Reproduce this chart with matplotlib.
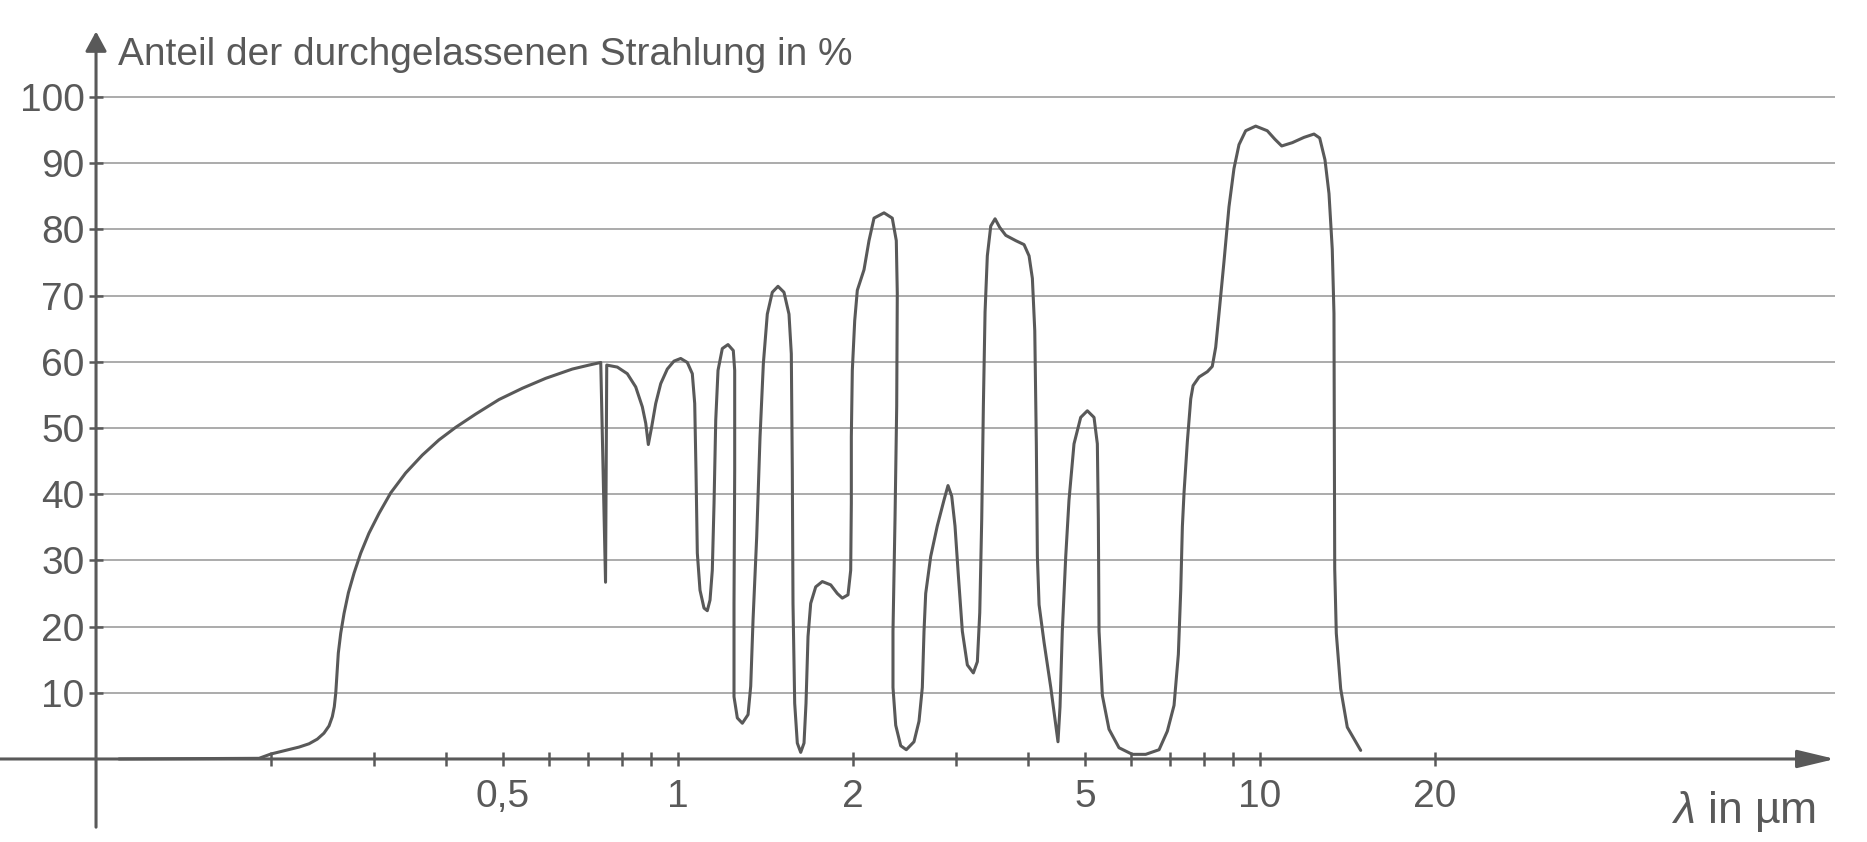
import numpy as np
import matplotlib
matplotlib.use('Agg')
import matplotlib.pyplot as plt
from matplotlib.ticker import FixedLocator, FixedFormatter, NullLocator

# Durchlässigkeit der Atmosphäre: Wellenlänge in µm, Anteil in %
wellenlaenge = [
    # UV / sichtbar
    0.1095, 0.1906, 0.1997, 0.2118, 0.2233, 0.2323, 0.2400, 0.2464, 0.2514, 0.2547,
    0.2567, 0.2582, 0.2595, 0.2608, 0.2633, 0.2668, 0.2714, 0.2776, 0.2850, 0.2944,
    0.3064, 0.3209, 0.3404, 0.3636, 0.3884, 0.4150, 0.4491, 0.4926, 0.5402, 0.5924,
    0.6582, 0.7031, 0.7366,
    # nahes IR
    0.7507, 0.7543, 0.7865, 0.8182, 0.8459, 0.8683, 0.8802, 0.8892, 0.9012, 0.9156,
    0.9339, 0.9585, 0.9842, 1.0107, 1.0375, 1.0582, 1.0683, 1.0737, 1.0794, 1.0909,
    1.1083, 1.1228, 1.1350, 1.1453, 1.1532, 1.1610, 1.1715, 1.1916, 1.2187, 1.2445,
    1.2514, 1.2514, 1.2480, 1.2480, 1.2645, 1.2898, 1.3193, 1.3333, 1.3456, 1.3653,
    1.3833, 1.4016, 1.4237, 1.4521, 1.4852, 1.5208, 1.5513, 1.5656, 1.5718, 1.5761,
    1.5867, 1.6032, 1.6249, 1.6463, 1.6593, 1.6726, 1.6904, 1.7243, 1.7698, 1.8298,
    1.8780, 1.9156, 1.9593, 1.9802, 1.9852, 1.9852, 1.9930, 2.0119, 2.0328, 2.0873,
    # mittleres IR
    2.1290, 2.1716, 2.2594, 2.3343, 2.3718, 2.3811, 2.3756, 2.3598, 2.3409, 2.3409,
    2.3663, 2.4136, 2.4675, 2.5437, 2.5947, 2.6290, 2.6467, 2.6644, 2.7177, 2.7893,
    2.8642, 2.9101, 2.9533, 2.9919, 3.0314, 3.0800, 3.1417, 3.2171, 3.2687, 3.2997,
    3.3257, 3.3472, 3.3696, 3.4000, 3.4464, 3.5057, 3.5710, 3.6575, 3.8045, 3.9318,
    4.0105, 4.0634, 4.1020, 4.1276, 4.1447, 4.1725, 4.2560, 4.3703, 4.4566, 4.4968,
    4.5332, 4.5742, 4.6368, 4.6970, 4.7910, 4.9196, 5.0504, 5.1859, 5.2545, 5.2751,
    5.2897, 5.3597, 5.5023, 5.7244, 6.0340, 6.3621, 6.7081,
    # atmosphärisches Fenster
    6.9310, 7.1173, 7.2397, 7.3085, 7.3557, 7.4050, 7.5027, 7.6036, 7.6740, 7.8580,
    8.1193, 8.2794, 8.3925, 8.5034, 8.6715, 8.8450, 9.0222, 9.2029, 9.4494, 9.8311,
    10.292, 10.612, 10.897, 11.364, 11.902, 12.382, 12.664, 12.932, 13.139, 13.310,
    13.400, 13.418, 13.440, 13.524, 13.761, 14.125, 14.894,
]
anteil = [
    0, 0.1, 0.75, 1.3, 1.8, 2.3, 3.0, 3.9, 5.0, 6.4,
    7.9, 10.0, 13.0, 16.0, 19.0, 22.0, 25.1, 28.1, 31.1, 34.1,
    37.1, 40.2, 43.2, 45.9, 48.2, 50.1, 52.1, 54.3, 56.0, 57.5,
    58.9, 59.5, 59.9,
    26.7, 59.5, 59.2, 58.2, 56.2, 53.2, 50.7, 47.5, 50.2, 53.7,
    56.7, 58.9, 60.1, 60.5, 59.9, 58.2, 53.7, 43.6, 31.1, 25.5,
    22.8, 22.4, 24.0, 28.5, 38.6, 51.2, 58.7, 62.0, 62.6, 61.7,
    58.7, 43.6, 23.5, 9.4, 6.2, 5.4, 6.7, 11.0, 21.0, 33.6,
    48.6, 59.7, 67.2, 70.5, 71.4, 70.5, 67.2, 61.2, 43.6, 23.5,
    8.4, 2.4, 1.0, 2.4, 8.4, 18.5, 23.5, 26.0, 26.8, 26.3,
    25.0, 24.3, 24.8, 28.5, 38.6, 48.6, 58.7, 66.2, 70.8, 73.9,
    78.3, 81.7, 82.5, 81.7, 78.3, 70.3, 53.3, 36.3, 19.3, 10.8,
    5.1, 2.0, 1.4, 2.6, 5.7, 10.8, 19.3, 25.0, 30.6, 35.2,
    39.1, 41.3, 39.7, 35.2, 27.8, 19.3, 14.2, 13.0, 14.7, 22.1,
    36.3, 53.3, 67.5, 76.0, 80.5, 81.6, 80.3, 79.1, 78.3, 77.7,
    76.0, 72.6, 64.7, 47.6, 30.6, 23.3, 17.6, 10.8, 5.1, 2.6,
    7.9, 19.3, 30.6, 39.1, 47.6, 51.6, 52.6, 51.6, 47.6, 36.3,
    19.3, 9.6, 4.5, 1.7, 0.7, 0.7, 1.4,
    4.2, 8.1, 15.8, 25.5, 35.1, 40.3, 48.0, 54.4, 56.4, 57.7,
    58.5, 59.3, 62.2, 67.3, 75.1, 83.4, 89.2, 92.8, 94.9, 95.6,
    94.9, 93.6, 92.6, 93.1, 93.9, 94.4, 93.8, 90.5, 85.4, 77.0,
    67.3, 48.0, 28.7, 19.0, 10.6, 4.8, 1.3,
]

y_ticks = [10, 20, 30, 40, 50, 60, 70, 80, 90, 100]
x_ticks = [0.2, 0.3, 0.4, 0.5, 0.6, 0.7, 0.8, 0.9, 1, 2, 3, 4, 5, 6, 7, 8, 9, 10, 20]
x_labels = ['', '', '', '0,5', '', '', '', '', '1', '2', '', '', '5', '', '', '', '', '10', '20']

plt.rcParams['font.family'] = ['Liberation Sans', 'DejaVu Sans']
plt.rcParams['mathtext.fontset'] = 'custom'
plt.rcParams['mathtext.rm'] = 'Liberation Sans'
plt.rcParams['mathtext.it'] = 'Liberation Sans:italic'

dunkel = '#595959'
hell = '#ababab'

fig = plt.figure(figsize=(18.67, 8.42), dpi=100)
ax = fig.add_axes([0, 0, 1, 1])
ax.set_xscale('log')
ax.set_xlim(10 ** -1.165, 10 ** 2.043)
ax.set_ylim(-12.54, 114.65)

for s in ax.spines.values():
    s.set_visible(False)
ax.spines['left'].set_position(('data', 0.1))
ax.spines['bottom'].set_position(('data', 0))

# Gitterlinien
ax.hlines(y_ticks, 0.1, 97.3, color=hell, lw=1.4, zorder=1)

# Achsen mit Pfeilen
ax.annotate('', xy=(97.3, 0), xytext=(10 ** -1.165, 0),
            arrowprops=dict(arrowstyle='-|>,head_length=2.3,head_width=0.55',
                            color=dunkel, lw=2.2, shrinkA=0, shrinkB=0), zorder=3)
ax.annotate('', xy=(0.1, 109.9), xytext=(0.1, -10.3),
            arrowprops=dict(arrowstyle='-|>,head_length=1.2,head_width=0.65',
                            color=dunkel, lw=2.2, shrinkA=0, shrinkB=0), zorder=3)

ax.xaxis.set_major_locator(FixedLocator(x_ticks))
ax.xaxis.set_major_formatter(FixedFormatter(x_labels))
ax.xaxis.set_minor_locator(NullLocator())
ax.set_yticks(y_ticks)
ax.set_yticklabels([str(v) for v in y_ticks])
ax.tick_params(axis='x', direction='inout', length=10, width=1.8, color=dunkel,
               labelsize=28, labelcolor=dunkel, pad=9.4)
ax.tick_params(axis='y', direction='inout', length=10, width=1.8, color=dunkel,
               labelsize=28, labelcolor=dunkel, pad=3.3)

# Kurve
ax.plot(wellenlaenge, anteil, color=dunkel, lw=2.2, solid_joinstyle='round',
        solid_capstyle='round', zorder=4)

ax.text(0.1091, 104.8, 'Anteil der durchgelassenen Strahlung in %', fontsize=28,
        color=dunkel, ha='left', va='baseline')
ax.text(90.2, -9.62, r'$\lambda$ in µm', fontsize=32, color=dunkel,
        ha='right', va='baseline')

fig.savefig('out.png', dpi=100, facecolor='white')
